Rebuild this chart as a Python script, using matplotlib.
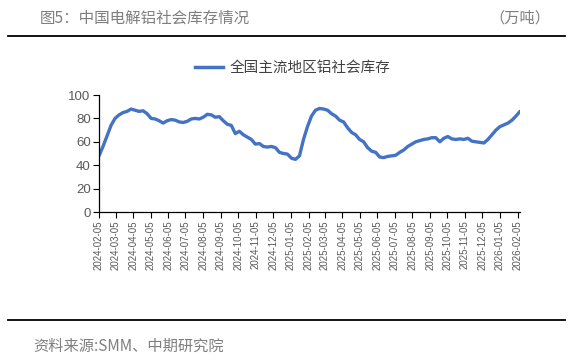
import matplotlib
matplotlib.use("Agg")
import matplotlib.pyplot as plt
import matplotlib.dates as mdates
from matplotlib.lines import Line2D
import pandas as pd

plt.rcParams['font.family'] = ['Noto Sans CJK SC', 'DejaVu Sans']

title = "图5：中国电解铝社会库存情况"
unit = "（万吨）"
source = "资料来源:SMM、中期研究院"
series_name = "全国主流地区铝社会库存"

start_date = "2024-02-05"
values = [48, 56, 65, 74, 80, 83, 85, 86, 88, 87, 86, 86.5, 84, 80, 79.5, 78, 76, 78, 79, 78.5,
          77, 76.5, 77.5, 79.5, 80, 79.5, 81, 83.5, 83, 81, 81.5, 78, 75, 74, 67, 69, 66, 64, 62, 58,
          58.5, 56, 55.5, 56, 55, 51, 50, 49.5, 46, 45, 48, 62, 73, 82, 87, 88.5, 88, 87, 84, 82,
          78.5, 77, 72, 68, 66, 62, 60, 55, 52, 51, 47, 46.5, 47.5, 48, 48.5, 51, 53, 56, 58, 60,
          61, 62, 62.5, 63.5, 63.5, 60, 63, 64.5, 62.5, 62, 62.5, 62, 63, 60.5, 60, 59.5, 59, 62, 66, 70,
          73, 74.5, 76, 78.5, 82, 86]
dates = pd.date_range(start_date, periods=len(values), freq="7D")
tick_dates = pd.date_range("2024-02-01", "2026-02-05", freq="MS") + pd.Timedelta(days=4)
y_ticks = [0, 20, 40, 60, 80, 100]

W, H = 577, 364
fig = plt.figure(figsize=(W / 100, H / 100), dpi=100)
left, right, bottom, top = 99, 520, 212, 95
ax = fig.add_axes([left / W, 1 - bottom / H, (right - left) / W, (bottom - top) / H])

line_color = "#4472C4"
ax.plot(dates, values, color=line_color, lw=2.4, solid_joinstyle="round", solid_capstyle="round")

ax.set_xlim(dates[0], dates[-1])
ax.set_ylim(0, 100)
ax.set_yticks(y_ticks)
ax.set_xticks(tick_dates)
ax.xaxis.set_major_formatter(mdates.DateFormatter("%Y-%m-%d"))

for s in ["top", "right"]:
    ax.spines[s].set_visible(False)
for s in ["left", "bottom"]:
    ax.spines[s].set_color("#000000")
    ax.spines[s].set_linewidth(0.9)

ax.tick_params(axis="y", direction="out", length=4, width=0.8, color="#000000",
               labelsize=9.5, labelcolor="#595959", pad=2)
ax.tick_params(axis="x", direction="out", length=4, width=0.8, color="#000000",
               labelsize=7, labelcolor="#595959", pad=2, rotation=90)
for lab in ax.get_yticklabels() + ax.get_xticklabels():
    lab.set_fontfamily(["Liberation Sans", "DejaVu Sans"])

handle = Line2D([0], [0], color=line_color, lw=2.5)
fig.legend([handle], [series_name], loc="center", bbox_to_anchor=(293 / W, 1 - 68 / H),
           frameon=False, fontsize=10.5, labelcolor="#404040", handlelength=1.9,
           handletextpad=0.5, borderpad=0, borderaxespad=0)

fig.text(40 / W, 1 - 18 / H, title, fontsize=11.2, color="#7f7f7f", va="center", ha="left")
fig.text(550 / W, 1 - 18 / H, unit, fontsize=11, color="#7f7f7f", va="center", ha="right")
fig.add_artist(Line2D([8 / W, 565 / W], [1 - 36 / H, 1 - 36 / H], color="black", lw=1.3))
fig.add_artist(Line2D([8 / W, 565 / W], [1 - 320 / H, 1 - 320 / H], color="black", lw=1.3))
fig.text(33 / W, 1 - 346 / H, source, fontsize=11, color="#7f7f7f", va="center", ha="left")

fig.savefig("out.png", dpi=100, facecolor="white")
